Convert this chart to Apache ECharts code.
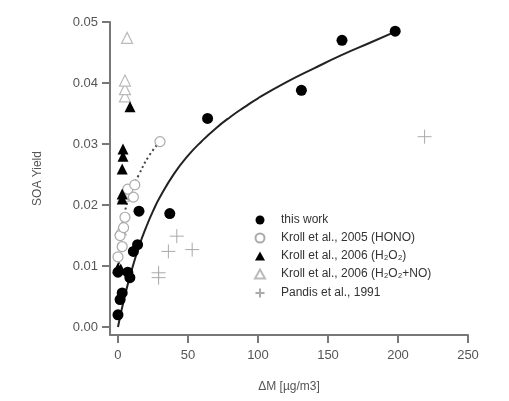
<!DOCTYPE html>
<html><head><meta charset="utf-8">
<script src="https://cdn.jsdelivr.net/npm/echarts@6/dist/echarts.min.js"></script>
<style>html,body{margin:0;padding:0;background:#fff}#c{width:509px;height:401px}</style>
</head><body><div id="c"></div>
<script>
// ---- data (ΔM [µg/m3], SOA yield) ----
const thisWork = [[0,0.002],[1.5,0.0045],[3,0.0056],[8.5,0.0081],[0,0.009],[7,0.009],[11,0.0124],[14,0.0135],[15,0.019],[37,0.0186],[64,0.0342],[131,0.0388],[160,0.047],[198,0.0485]];
const krollHONO = [[0,0.0115],[3,0.0132],[1.5,0.015],[4,0.0163],[5,0.018],[11,0.0213],[7,0.0226],[12,0.0233],[30,0.0304]];
const krollH2O2 = [[0,0.0097],[2,0.0095],[3,0.021],[3,0.0218],[3,0.0259],[3.6,0.028],[3.6,0.0292],[8.6,0.0361]];
const krollH2O2NO = [[2,0.016],[4,0.0215],[5,0.0378],[5,0.039],[5,0.0404],[6.5,0.0474]];
const pandis = [[29,0.0081],[29,0.0089],[36,0.0124],[53,0.0127],[42,0.0149],[219,0.0312]];
const fitThisWork = [[0,0.0],[5,0.0052],[10,0.0095],[15,0.0132],[20,0.0163],[25,0.019],[30,0.0213],[40,0.0251],[50,0.0281],[60,0.0305],[70,0.0326],[80,0.0344],[90,0.036],[100,0.0375],[120,0.0401],[140,0.0424],[160,0.0446],[180,0.0466],[199,0.0485]];
const fitHONO = [[0.5,0.0095],[2,0.0145],[5,0.019],[10,0.0225],[15,0.025],[22,0.028],[30,0.0304]];
const xTicks = [0,50,100,150,200,250];
const yTicks = [0,0.01,0.02,0.03,0.04,0.05];
const seriesNames = ['this work','Kroll et al., 2005 (HONO)','Kroll et al., 2006 (H₂O₂)','Kroll et al., 2006 (H₂O₂+NO)','Pandis et al., 1991'];

const chart = echarts.init(document.getElementById('c'));
const font = 'Liberation Sans, Arial, sans-serif';
const axisCol = '#777';
chart.setOption({
  backgroundColor:'#fff',
  animation:false,
  grid:{left:110,right:41,top:22,bottom:66},
  xAxis:{type:'value',min:-5.7,max:250,
    name:'ΔM [µg/m3]',nameLocation:'middle',nameGap:46,
    nameTextStyle:{fontFamily:font,fontSize:12,color:'#555'},
    axisLine:{onZero:false,lineStyle:{color:axisCol,width:2}},
    axisTick:{show:true,inside:false,length:8,lineStyle:{color:axisCol,width:2},customValues:xTicks},
    axisLabel:{fontFamily:font,fontSize:13,color:'#555',margin:14,customValues:xTicks},
    splitLine:{show:false}},
  yAxis:{type:'value',min:-0.0013,max:0.05,
    name:'SOA Yield',nameLocation:'middle',nameGap:66,
    nameTextStyle:{fontFamily:font,fontSize:12,color:'#555'},
    axisLine:{onZero:false,lineStyle:{color:axisCol,width:2}},
    axisTick:{show:true,length:8,lineStyle:{color:axisCol,width:2},customValues:yTicks},
    axisLabel:{fontFamily:font,fontSize:13,color:'#555',margin:12,customValues:yTicks,formatter:v=>v.toFixed(2)},
    splitLine:{show:false}},
  legend:{orient:'vertical',left:248,top:209,itemGap:6,itemWidth:10,itemHeight:9,
    data:seriesNames,
    textStyle:{fontFamily:font,fontSize:12,color:'#333',padding:[0,0,0,11]}},
  series:[
    {type:'line',data:fitThisWork,smooth:true,symbol:'none',lineStyle:{color:'#222',width:2},z:1,silent:true},
    {type:'line',data:fitHONO,smooth:true,symbol:'none',lineStyle:{color:'#444',width:2,type:[2,3]},z:1,silent:true},
    {name:seriesNames[4],type:'scatter',data:pandis,symbol:'path://M0,7 L14,7 M7,0 L7,14',symbolSize:14,
      itemStyle:{color:'none',borderColor:'#aaa',borderWidth:1,opacity:1},z:2},
    {name:seriesNames[3],type:'scatter',data:krollH2O2NO,symbol:'triangle',symbolSize:11,
      itemStyle:{color:'#fff',borderColor:'#bbb',borderWidth:1.2,opacity:1},z:3},
    {name:seriesNames[1],type:'scatter',data:krollHONO,symbol:'circle',symbolSize:10,
      itemStyle:{color:'#fff',borderColor:'#aaa',borderWidth:1.2,opacity:1},z:3},
    {name:seriesNames[2],type:'scatter',data:krollH2O2,symbol:'triangle',symbolSize:11,
      itemStyle:{color:'#000',opacity:1},z:4},
    {name:seriesNames[0],type:'scatter',data:thisWork,symbol:'circle',symbolSize:11,
      itemStyle:{color:'#000',opacity:1},z:5}
  ]
});
</script></body></html>
